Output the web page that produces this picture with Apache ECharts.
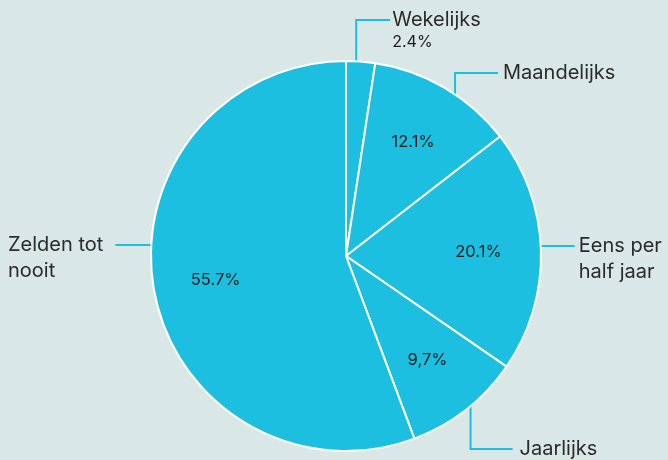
<!DOCTYPE html>
<html>
<head>
<meta charset="utf-8">
<script src="https://cdn.jsdelivr.net/npm/echarts@6/dist/echarts.min.js"></script>
<style>
  html, body { margin: 0; padding: 0; background: #d9e7e6; }
  #main { width: 668px; height: 460px; }
</style>
</head>
<body>
<div id="main"></div>
<script>
const chart = echarts.init(document.getElementById("main"));

// data
const categories = ["Wekelijks", "Maandelijks", "Eens per\nhalf jaar", "Jaarlijks", "Zelden tot\nnooit"];
const values = [2.4, 12.1, 20.1, 9.7, 55.7];
const percentLabels = ["2.4%", "12.1%", "20.1%", "9,7%", "55.7%"];

const CX = 346, CY = 256, R = 195;
const CYAN = "#1dbfe0";
const FONT = "Inter";

// label guide lines: 'v' = up/down from the edge then sideways, 'h' = straight sideways
const guides = [
    { mode: "v", angle: 3, elbowDy: -236, len: 34, gap: 2 },
    { mode: "v", angle: 34, elbowDy: -183, len: 43, gap: 5 },
    { mode: "h", dy: -10, len: 34, gap: 4 },
    { mode: "v", angle: 140.3, elbowDy: 193, len: 42, gap: 7 },
    { mode: "h", dy: -11, len: -36, gap: 12 }
];

function layoutLabel(params) {
    const g = guides[params.dataIndex];
    let pts, tx, ty;
    if (g.mode === "v") {
        const a = g.angle * Math.PI / 180;
        const x0 = CX + R * Math.sin(a), y0 = CY - R * Math.cos(a);
        const ey = CY + g.elbowDy;
        pts = [[x0, y0], [x0, ey], [x0 + g.len, ey]];
        tx = x0 + g.len + g.gap; ty = ey;
    } else {
        const y = CY + g.dy;
        const dx = Math.sqrt(R * R - g.dy * g.dy);
        const x0 = g.len > 0 ? CX + dx : CX - dx;
        pts = [[x0, y], [x0 + g.len / 2, y], [x0 + g.len, y]];
        tx = g.len > 0 ? x0 + g.len + g.gap : x0 + g.len - g.gap - params.labelRect.width;
        ty = y;
    }
    return {
        x: tx,
        y: ty - 13,
        align: "left",
        verticalAlign: "top",
        labelLinePoints: pts
    };
}

const pieData = categories.map((c, i) => ({ name: c, value: values[i] }));

chart.setOption({
    backgroundColor: "#d9e7e6",
    animation: false,
    series: [
        {
            type: "pie",
            center: [CX, CY],
            radius: [0, R],
            startAngle: 90,
            clockwise: true,
            avoidLabelOverlap: false,
            data: pieData,
            itemStyle: { color: CYAN, borderColor: "#ffffff", borderWidth: 2 },
            label: {
                show: true,
                position: "outside",
                align: "left",
                formatter: (p) => p.dataIndex === 0
                    ? "{n|" + p.name + "}\n{p|" + percentLabels[0] + "}"
                    : "{n|" + p.name.split("\n").join("}\n{n|") + "}",
                rich: {
                    n: { fontFamily: FONT, fontSize: 20, lineHeight: 26, color: "#2b2b2b", align: "left" },
                    p: { fontFamily: FONT, fontSize: 16, lineHeight: 18, color: "#1a1a1a", align: "left" }
                }
            },
            labelLine: { show: true, lineStyle: { color: CYAN, width: 2 } },
            labelLayout: layoutLabel,
            emphasis: { disabled: true }
        },
        {
            type: "pie",
            center: [CX, CY],
            radius: [64, R],
            startAngle: 90,
            clockwise: true,
            silent: true,
            data: pieData,
            itemStyle: { color: "rgba(0,0,0,0)", borderWidth: 0 },
            label: {
                show: true,
                position: "inside",
                fontFamily: FONT,
                fontSize: 16.5,
                color: "#1a1a1a",
                formatter: (p) => p.dataIndex === 0 ? "" : percentLabels[p.dataIndex]
            },
            labelLine: { show: false }
        }
    ]
});
</script>
</body>
</html>
